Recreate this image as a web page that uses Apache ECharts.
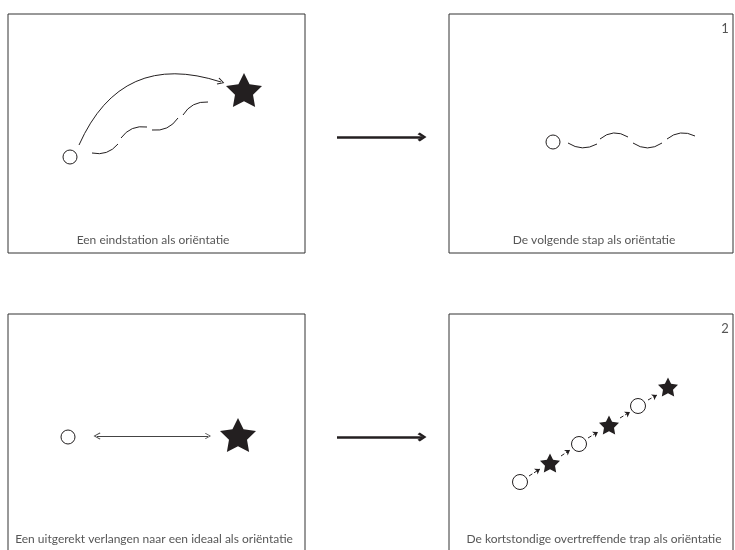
<!DOCTYPE html>
<html>
<head>
<meta charset="utf-8">
<script src="https://cdn.jsdelivr.net/npm/echarts@6/dist/echarts.min.js"></script>
<style>
html,body{margin:0;padding:0;background:#fff;}
#c{width:735px;height:550px;}
</style>
</head>
<body>
<div id="c"></div>
<script>
// Diagram data in a 735 x 550 data space (y grows downward)
const panelBoxes = [
  [[8,14],[305,14],[305,253],[8,253],[8,14]],
  [[449,14],[733,14],[733,253],[449,253],[449,14]],
  [[8,560],[8,314],[305,314],[305,560]],
  [[449,560],[449,314],[733,314],[733,560]]
];
const captions = [
  [153, 240, 'Een eindstation als oriëntatie'],
  [594, 240, 'De volgende stap als oriëntatie'],
  [154, 539, 'Een uitgerekt verlangen naar een ideaal als oriëntatie'],
  [594, 539, 'De kortstondige overtreffende trap als oriëntatie']
];
const panelNumbers = [
  [725, 29, '1'],
  [725, 329, '2']
];
const bigCircles = [[70,157],[553,142],[68,437]];
const smallCircles = [[520,482],[579,444],[638,406]];
const bigStars = [[244,90],[238,435]];
const smallStars = [[550,463],[609,425],[668,387]];
const bigArrows = [
  [[337,137],[422,137]],
  [[337,437],[422,437]]
];
const curvedArrow = [[79,145],[221,82]];
const curvedArrowBend = 0.45;
const wishPath = [
  [[92,153],[118,144],-0.3],
  [[121,138],[147,127],0.3],
  [[152,130],[178,118],-0.3],
  [[183,115],[208,102],0.3]
];
const stepWave = [
  [[568,143],[597,144],-0.3],
  [[600,139],[628,137],0.36],
  [[633,143],[662,143],-0.34],
  [[667,139],[695,136],0.32]
];
const idealArrow = [[97,436],[208,436]];
const stepArrows = [
  [[529,476],[540,469]],
  [[561,456],[570,450]],
  [[588,438],[598,432]],
  [[620,418],[630,412]],
  [[648,400],[657,395]]
];

// star symbol path
function starPath(){
  const pts = [];
  for (let i = 0; i < 10; i++) {
    const a = (-90 + 36 * i) * Math.PI / 180;
    const r = i % 2 === 0 ? 50 : 25;
    pts.push((50 + r * Math.cos(a)).toFixed(2) + ',' + (50 + r * Math.sin(a)).toFixed(2));
  }
  return 'path://M' + pts.join(' L') + ' Z';
}
const STAR = starPath();
const CHEVRON = 'path://M5,0 L10,9 L9,10 L5,2.5 L1,10 L0,9 Z';
const BOLDCHEVRON = 'path://M5,0 L10,7.5 L8,10 L5,4.5 L2,10 L0,7.5 Z';
const INK = '#231f20';

const chart = echarts.init(document.getElementById('c'), null, {renderer: 'canvas'});
const option = {
  animation: false,
  backgroundColor: '#fff',
  grid: {left: 0, right: 0, top: 0, bottom: 0},
  xAxis: {type: 'value', min: 0, max: 735, show: false},
  yAxis: {type: 'value', min: 0, max: 550, inverse: true, show: false},
  series: [
    {
      type: 'lines', coordinateSystem: 'cartesian2d', polyline: true, silent: true,
      lineStyle: {color: '#333', width: 1, opacity: 1},
      data: panelBoxes.map(c => ({coords: c}))
    },
    {
      type: 'lines', coordinateSystem: 'cartesian2d', silent: true,
      symbol: ['none', BOLDCHEVRON], symbolSize: [9, 9],
      lineStyle: {color: INK, width: 2.5, opacity: 1},
      data: bigArrows.map(c => ({coords: c}))
    },
    {
      type: 'lines', coordinateSystem: 'cartesian2d', silent: true,
      symbol: ['none', CHEVRON], symbolSize: [8, 7],
      lineStyle: {color: INK, width: 1, opacity: 1, curveness: curvedArrowBend},
      data: [{coords: curvedArrow}]
    },
    {
      type: 'lines', coordinateSystem: 'cartesian2d', silent: true,
      symbol: 'none',
      lineStyle: {color: INK, width: 1, opacity: 1},
      data: wishPath.concat(stepWave).map(d => ({coords: [d[0], d[1]], lineStyle: {curveness: d[2]}}))
    },
    {
      type: 'lines', coordinateSystem: 'cartesian2d', silent: true,
      symbol: [CHEVRON, CHEVRON], symbolSize: [7, 6],
      lineStyle: {color: '#444', width: 1, opacity: 1},
      data: [{coords: idealArrow}]
    },
    {
      type: 'lines', coordinateSystem: 'cartesian2d', silent: true,
      symbol: ['none', 'arrow'], symbolSize: [4, 5],
      lineStyle: {color: INK, width: 1, opacity: 1, type: [4, 2]},
      data: stepArrows.map(c => ({coords: c}))
    },
    {
      type: 'scatter', silent: true, symbol: 'circle', symbolSize: 14,
      itemStyle: {color: '#fff', borderColor: INK, borderWidth: 1, opacity: 1},
      data: bigCircles
    },
    {
      type: 'scatter', silent: true, symbol: 'circle', symbolSize: 15,
      itemStyle: {color: '#fff', borderColor: INK, borderWidth: 1, opacity: 1},
      data: smallCircles
    },
    {
      type: 'scatter', silent: true, symbol: STAR, symbolKeepAspect: true, symbolSize: 36,
      itemStyle: {color: INK, opacity: 1},
      data: bigStars
    },
    {
      type: 'scatter', silent: true, symbol: STAR, symbolKeepAspect: true, symbolSize: 20,
      itemStyle: {color: INK, opacity: 1},
      data: smallStars
    },
    {
      type: 'scatter', silent: true, symbolSize: 0,
      label: {show: true, position: 'inside', formatter: p => p.value[2],
        fontFamily: 'Lato', fontWeight: 400, fontSize: 12, color: '#2a2a2a'},
      data: captions
    },
    {
      type: 'scatter', silent: true, symbolSize: 0,
      label: {show: true, position: 'inside', formatter: p => p.value[2],
        fontFamily: 'Lato', fontWeight: 400, fontSize: 13, color: '#2a2a2a'},
      data: panelNumbers
    }
  ]
};
chart.setOption(option);
</script>
</body>
</html>
